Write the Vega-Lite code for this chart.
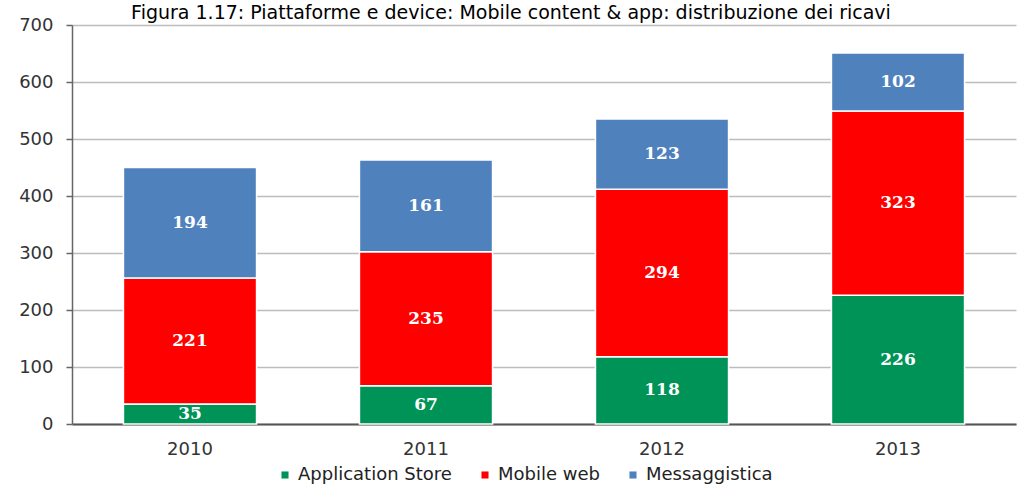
{
  "$schema": "https://vega.github.io/schema/vega-lite/v6.json",
  "width": 944,
  "height": 399,
  "autosize": {"type": "none"},
  "padding": {"left": 72, "top": 25, "right": 3, "bottom": 62},
  "background": "#ffffff",
  "title": {
    "text": "Figura 1.17: Piattaforme e device: Mobile content & app: distribuzione dei ricavi",
    "font": "DejaVu Sans",
    "fontSize": 19,
    "fontWeight": "normal",
    "color": "#000000",
    "anchor": "middle",
    "dx": -33,
    "dy": 22,
    "offset": 0,
    "baseline": "alphabetic"
  },
  "config": {
    "view": {"stroke": null},
    "axis": {"labelFont": "DejaVu Sans", "labelColor": "#333333"}
  },
  "data": {
    "values": [
      {"year": "2010", "series": "Application Store", "order": 1, "value": 35},
      {"year": "2010", "series": "Mobile web", "order": 2, "value": 221},
      {"year": "2010", "series": "Messaggistica", "order": 3, "value": 194},
      {"year": "2011", "series": "Application Store", "order": 1, "value": 67},
      {"year": "2011", "series": "Mobile web", "order": 2, "value": 235},
      {"year": "2011", "series": "Messaggistica", "order": 3, "value": 161},
      {"year": "2012", "series": "Application Store", "order": 1, "value": 118},
      {"year": "2012", "series": "Mobile web", "order": 2, "value": 294},
      {"year": "2012", "series": "Messaggistica", "order": 3, "value": 123},
      {"year": "2013", "series": "Application Store", "order": 1, "value": 226},
      {"year": "2013", "series": "Mobile web", "order": 2, "value": 323},
      {"year": "2013", "series": "Messaggistica", "order": 3, "value": 102}
    ]
  },
  "transform": [
    {"stack": "value", "groupby": ["year"], "sort": [{"field": "order"}], "as": ["v0", "v1"]}
  ],
  "encoding": {
    "x": {
      "field": "year",
      "type": "nominal",
      "title": null,
      "scale": {"paddingInner": 0.436, "paddingOuter": 0.218},
      "axis": {
        "labelAngle": 0,
        "labelFontSize": 18,
        "ticks": false,
        "labelPadding": 16,
        "domainColor": "#555555",
        "domainWidth": 2
      }
    }
  },
  "layer": [
    {
      "mark": {"type": "bar", "stroke": "#ffffff", "strokeWidth": 1.5},
      "encoding": {
        "y": {
          "field": "v0",
          "type": "quantitative",
          "title": null,
          "scale": {"domain": [0, 700], "nice": false},
          "axis": {
            "values": [0, 100, 200, 300, 400, 500, 600, 700],
            "labelFontSize": 18,
            "labelPadding": 13,
            "tickSize": 6,
            "tickColor": "#666666",
            "tickWidth": 1.5,
            "domainColor": "#666666",
            "domainWidth": 1.5,
            "gridColor": "#bdbdbd",
            "gridWidth": 1.5
          }
        },
        "y2": {"field": "v1"},
        "color": {
          "field": "series",
          "type": "nominal",
          "scale": {
            "domain": ["Application Store", "Mobile web", "Messaggistica"],
            "range": ["#009358", "#ff0000", "#4f81bd"]
          },
          "legend": {
            "title": null,
            "orient": "none",
            "direction": "horizontal",
            "legendX": 204,
            "legendY": 441,
            "symbolType": "square",
            "symbolSize": 50,
            "symbolStrokeWidth": 0,
            "labelFont": "DejaVu Sans",
            "labelFontSize": 18,
            "labelColor": "#222222",
            "labelOffset": 4,
            "columnPadding": 24
          }
        }
      }
    },
    {
      "transform": [{"calculate": "(datum.v0 + datum.v1) / 2", "as": "vmid"}],
      "mark": {
        "type": "text",
        "color": "#ffffff",
        "font": "DejaVu Serif",
        "fontWeight": "bold",
        "fontSize": 17,
        "baseline": "middle"
      },
      "encoding": {
        "y": {"field": "vmid", "type": "quantitative"},
        "text": {"field": "value", "type": "quantitative"}
      }
    }
  ]
}
